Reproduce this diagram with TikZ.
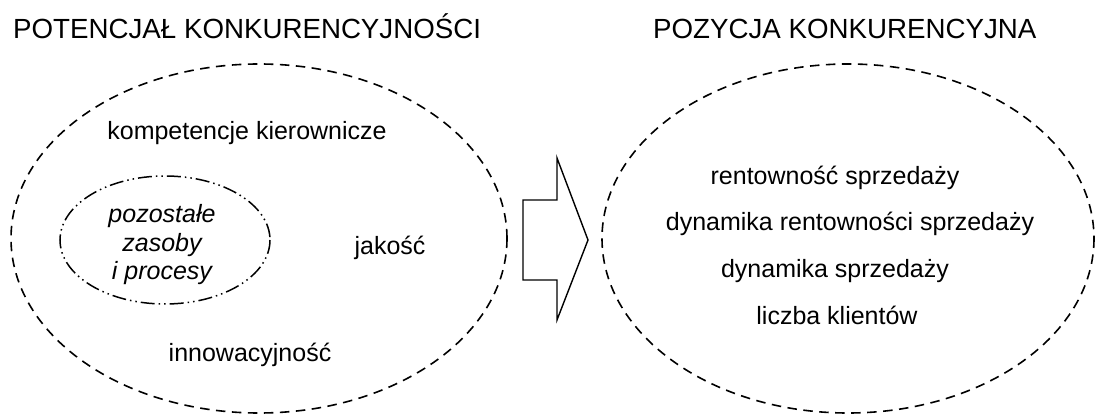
\documentclass[tikz,border=0pt]{standalone}
\usepackage{fontspec}
\setmainfont{Liberation Sans}
\begin{document}
\begin{tikzpicture}[x=1pt,y=-1pt,
  title/.style={anchor=base west,inner sep=0pt,font=\fontsize{27.7}{30}\selectfont},
  lbl/.style={anchor=base,inner sep=0pt,font=\fontsize{25}{28}\selectfont},
  ital/.style={lbl,font=\fontsize{25}{28}\selectfont\itshape},
  outer/.style={draw,line width=1.6pt,dash pattern=on 9.5pt off 6.5pt},
  inner/.style={draw,line width=1.5pt,dash pattern=on 14pt off 4pt on 1.5pt off 4pt on 1.5pt off 4pt},
  arr/.style={draw,line width=1.4pt,line join=miter}]
\useasboundingbox (0,0) rectangle (1096,414);
\node[title] (t1) at (13,39) {POTENCJAŁ KONKURENCYJNOŚCI};
\node[title] (t2) at (653,39) {POZYCJA KONKURENCYJNA};
\path[outer] (259,238.5) ellipse [x radius=248, y radius=174.5];
\path[outer] (848,238.5) ellipse [x radius=246, y radius=174.5];
\path[inner] (165,240) ellipse [x radius=105, y radius=64];
\node[lbl] (k) at (247,140) {kompetencje kierownicze};
\node[ital] (p1) at (162,223) {pozostałe};
\node[ital] (p2) at (162,252) {zasoby};
\node[ital] (p3) at (162,280) {i procesy};
\node[lbl] (j) at (390,255) {jakość};
\node[lbl] (i) at (250,362) {innowacyjność};
\node[lbl] (r1) at (835,185) {rentowność sprzedaży};
\node[lbl] (r2) at (850,231) {dynamika rentowności sprzedaży};
\node[lbl] (r3) at (835,278) {dynamika sprzedaży};
\node[lbl] (r4) at (837,324) {liczba klientów};
\path[arr] (523,200) -- (557,200) -- (557,158) -- (588,240) -- (557,320) -- (557,280) -- (523,280) -- cycle;
\end{tikzpicture}
\end{document}
